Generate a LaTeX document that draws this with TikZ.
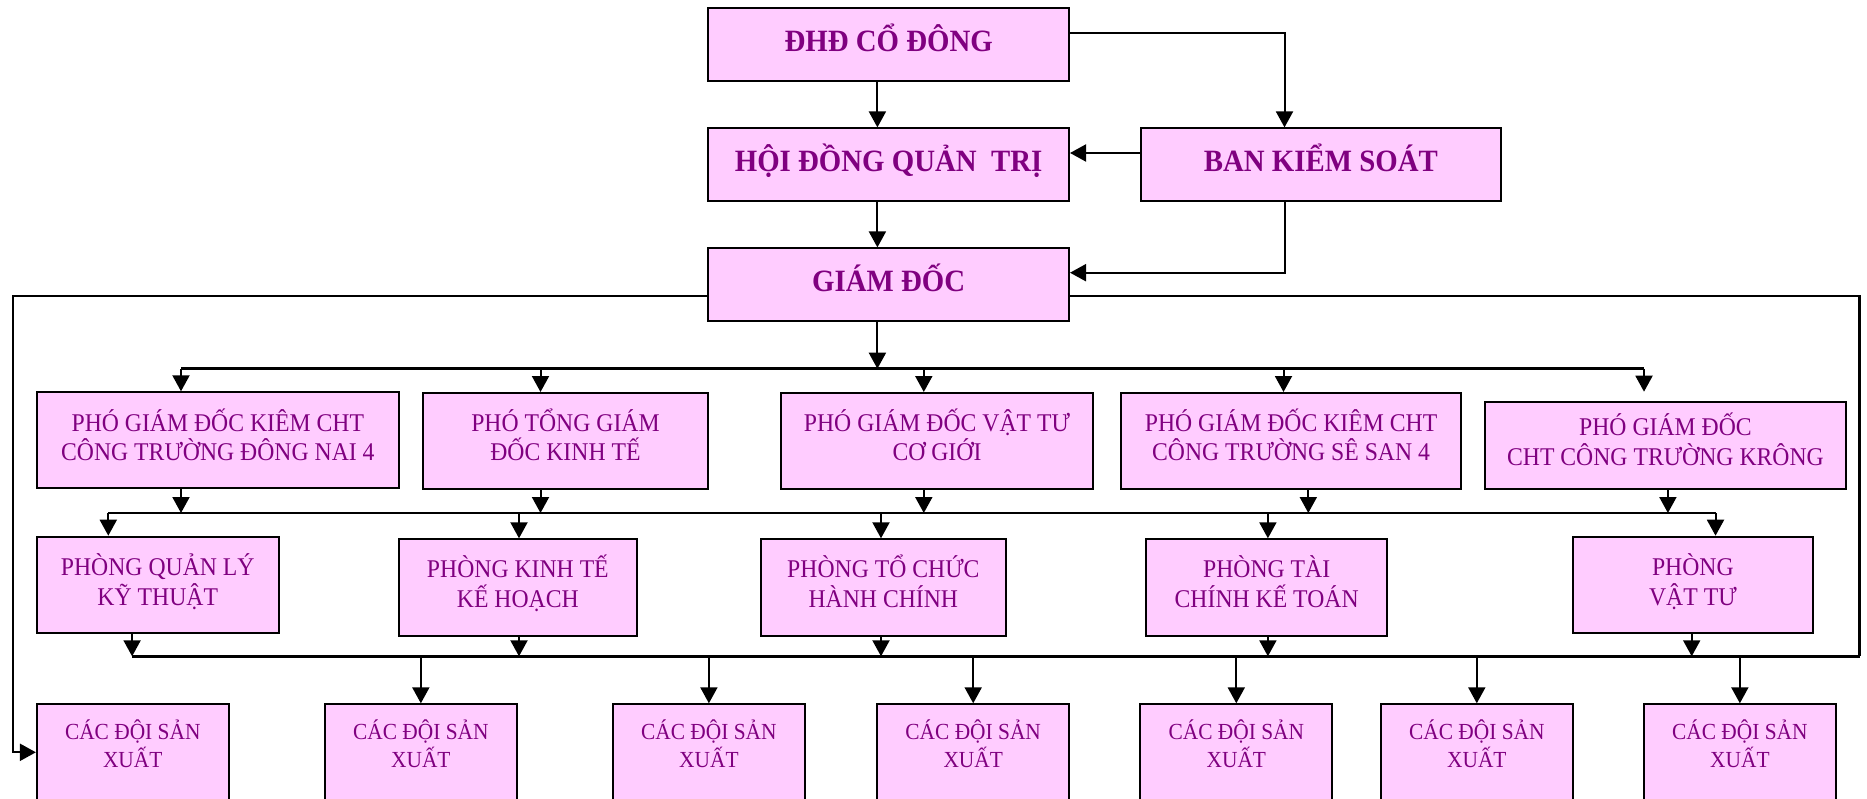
\documentclass[tikz,border=0pt]{standalone}
\usepackage{fontspec}
\setmainfont{Liberation Serif}[FakeStretch=0.93]
\usetikzlibrary{arrows.meta}
\definecolor{boxfill}{HTML}{FFCCFF}
\definecolor{txtcol}{HTML}{800080}
\begin{document}
\begin{tikzpicture}[x=1pt,y=-1pt,
 box/.style={draw=black, line width=2pt, fill=boxfill, text=txtcol, align=center, inner sep=0pt},
 topbox/.style={box, font=\fontsize{31}{34}\selectfont\bfseries, minimum width=360.7, minimum height=72.5, text height=27pt, text depth=12.5pt},
 pbox/.style={box, font=\fontsize{25.5}{29.3}\selectfont, text height=52pt, text depth=12pt},
 rbox/.style={box, font=\fontsize{25.5}{30}\selectfont, text height=53pt, text depth=12.5pt},
 sbox/.style={box, minimum width=191.7, minimum height=145.7},
 stxt/.style={text=txtcol, align=center, inner sep=0pt, font=\fontsize{23}{27.7}\selectfont},
 conn/.style={line width=2pt, -{Triangle[length=16pt,width=17pt]}},
 bus/.style={line width=2.8pt},
 side/.style={line width=2.2pt},
]
\useasboundingbox (0,0) rectangle (1867,799);
\clip (0,0) rectangle (1867,799);

% top level
\node[topbox] (dhd)  at (888.65,44.5)  {ĐHĐ CỔ ĐÔNG};
\node[topbox] (hdqt) at (888.65,164.65) {HỘI ĐỒNG QUẢN~~TRỊ};
\node[topbox] (bks)  at (1320.85,164.65) {BAN KIỂM SOÁT};
\node[topbox] (gd)   at (888.65,284.65) {GIÁM ĐỐC};

% row 2
\node[pbox, minimum width=361.9, minimum height=96]   (p1) at (217.85,440.3) {PHÓ GIÁM ĐỐC KIÊM CHT\\CÔNG TRƯỜNG ĐÔNG NAI 4};
\node[pbox, minimum width=285.7, minimum height=95.7] (p2) at (565.45,440.85) {PHÓ TỔNG GIÁM\\ĐỐC KINH TẾ};
\node[pbox, minimum width=311.9, minimum height=95.7] (p3) at (936.95,440.85) {PHÓ GIÁM ĐỐC VẬT TƯ\\CƠ GIỚI};
\node[pbox, minimum width=339.3, minimum height=95.7] (p4) at (1291.05,440.85) {PHÓ GIÁM ĐỐC KIÊM CHT\\CÔNG TRƯỜNG SÊ SAN 4};
\node[pbox, minimum width=361.9, minimum height=87]   (p5) at (1665.45,445.2) {PHÓ GIÁM ĐỐC\\CHT CÔNG TRƯỜNG KRÔNG};

% row 3
\node[rbox, minimum width=241.7, minimum height=96.6] (r1) at (157.75,585) {PHÒNG QUẢN LÝ\\KỸ THUẬT};
\node[rbox, minimum width=238.1, minimum height=96.7] (r2) at (517.85,587.65) {PHÒNG KINH TẾ\\KẾ HOẠCH};
\node[rbox, minimum width=245.3, minimum height=96.7] (r3) at (883.35,587.65) {PHÒNG TỔ CHỨC\\HÀNH CHÍNH};
\node[rbox, minimum width=240.5, minimum height=96.7] (r4) at (1266.65,587.65) {PHÒNG TÀI\\CHÍNH KẾ TOÁN};
\node[rbox, minimum width=240.5, minimum height=96.6] (r5) at (1692.85,585) {PHÒNG\\VẬT TƯ};

% row 4
\foreach \n/\x in {s1/132.75, s2/420.85, s3/708.9, s4/973.2, s5/1236.3, s6/1476.8, s7/1739.85}{
  \node[sbox] (\n) at (\x,777.15) {};
  \node[stxt] (\n t) at (\x,744) {CÁC ĐỘI SẢN\\XUẤT};
}

% coordinates
\coordinate (c0) at (877.4,0);
\coordinate (kx) at (1284.5,32.7);
\coordinate (ky) at (0,153);
\coordinate (kz) at (0,272.7);
\coordinate (gdL) at (13.1,296.3);
\coordinate (gdR) at (1859.5,296.3);
\coordinate (b1L) at (181,368.7);
\coordinate (b1R) at (1644,368.7);
\coordinate (b2L) at (108.3,513);
\coordinate (b2R) at (1715.5,513);
\coordinate (b3L) at (132.1,656.3);
\coordinate (b3R) at (1859.5,656.3);
\coordinate (sy) at (0,752.3);

% top connectors
\draw[conn] (dhd.south -| c0) -- (hdqt.north -| c0);
\draw[conn] (hdqt.south -| c0) -- (gd.north -| c0);
\draw[conn] (dhd.east |- kx) -| (bks.north -| kx);
\draw[conn] (bks.west |- ky) -- (hdqt.east |- ky);
\draw[conn] (bks.south -| kx) |- (gd.east |- kz);
\draw[conn] (gd.south -| c0) -- (c0 |- b1L);

% bus 1
\draw[bus] (b1L) -- (b1R);
\foreach \n/\x in {p1/181, p2/540.5, p3/923.8, p4/1283.5}{
  \coordinate (t) at (\x,368.7);
  \draw[conn] (t) -- (\n.north -| t);
}
\coordinate (t5) at (1644,368.7);
\coordinate (t5e) at (1644,391.7);
\draw[conn] (t5) -- (t5e);

% row 2 -> bus 2
\foreach \n/\x in {p1/181, p2/540.5, p3/923.8, p4/1308.3, p5/1667.9}{
  \coordinate (t) at (\x,513);
  \draw[conn] (\n.south -| t) -- (t);
}
\draw[bus] (b2L) -- (b2R);
\foreach \n/\x in {r1/108.3, r2/519, r3/881, r4/1267.9, r5/1715.5}{
  \coordinate (t) at (\x,513);
  \draw[conn] (t) -- (\n.north -| t);
}

% row 3 -> bus 3
\foreach \n/\x in {r1/132.1, r2/519, r3/881, r4/1267.9, r5/1691.7}{
  \coordinate (t) at (\x,656.3);
  \draw[conn] (\n.south -| t) -- (t);
}
\draw[bus] (b3L) -- (b3R);
\foreach \n in {s2,s3,s4,s5,s6,s7}{
  \draw[conn] (\n.north |- b3L) -- (\n.north);
}

% GD side lines
\draw[side] (gd.east |- gdR) -| (b3R);
\draw[conn, side] (gd.west |- gdL) -- (gdL) |- (s1.west |- sy);
\end{tikzpicture}
\end{document}
